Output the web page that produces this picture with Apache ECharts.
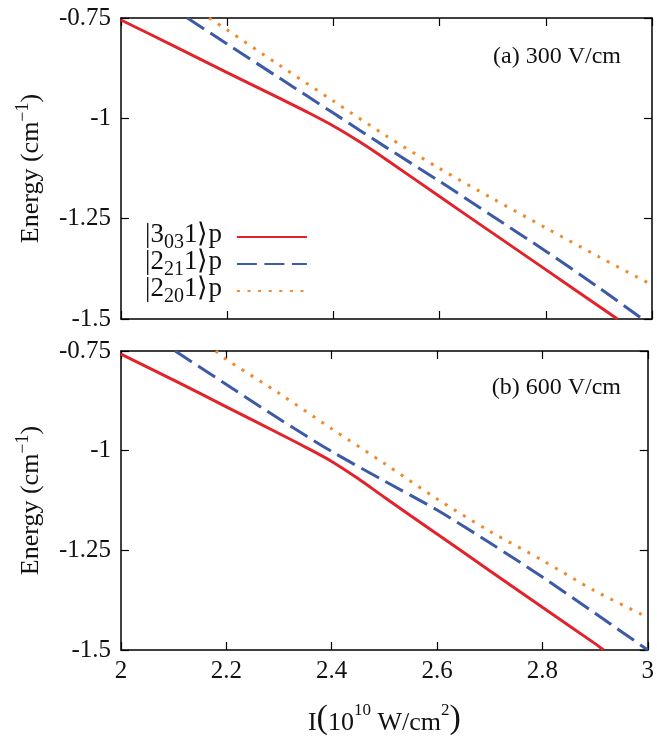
<!DOCTYPE html>
<html><head><meta charset="utf-8">
<script src="https://cdn.jsdelivr.net/npm/echarts@6/dist/echarts.min.js"></script>
<style>html,body{margin:0;padding:0;background:#fff}#c{width:657px;height:737px}</style>
</head><body><div id="c"></div>
<script>
// ---- data ----
const xTicks = [2, 2.2, 2.4, 2.6, 2.8, 3];
const yTicks = [-0.75, -1, -1.25, -1.5];
const seriesNames = ['s303', 's221', 's220'];
const legendMain = ['3', '2', '2'];
const legendSub = ['03', '21', '20'];
const panelLabels = ['(a) 300 V/cm', '(b) 600 V/cm'];

// panel (a) 300 V/cm
const redA = [[2.0,-0.755],[2.1,-0.820],[2.2,-0.886],[2.3,-0.951],[2.35,-0.984],[2.4,-1.019],[2.45,-1.059],[2.5,-1.103],[2.6,-1.195],[2.7,-1.286],[2.8,-1.377],[2.9,-1.468],[2.935,-1.5]];
const blueA = [[2.125,-0.75],[2.2,-0.815],[2.3,-0.901],[2.4,-0.987],[2.5,-1.073],[2.6,-1.157],[2.7,-1.244],[2.8,-1.331],[2.9,-1.422],[2.982,-1.5]];
const orangeA = [[2.166,-0.75],[2.2,-0.780],[2.3,-0.869],[2.4,-0.957],[2.5,-1.044],[2.6,-1.125],[2.7,-1.200],[2.8,-1.273],[2.9,-1.345],[3.0,-1.415]];

// panel (b) 600 V/cm
const redB = [[2.0,-0.758],[2.1,-0.823],[2.2,-0.890],[2.3,-0.957],[2.35,-0.991],[2.4,-1.027],[2.45,-1.070],[2.5,-1.117],[2.6,-1.209],[2.7,-1.301],[2.8,-1.393],[2.9,-1.484],[2.916,-1.5]];
const blueB = [[2.103,-0.75],[2.2,-0.834],[2.3,-0.920],[2.4,-1.002],[2.5,-1.076],[2.6,-1.149],[2.7,-1.231],[2.8,-1.317],[2.9,-1.408],[3.0,-1.5]];
const orangeB = [[2.18,-0.75],[2.2,-0.771],[2.3,-0.856],[2.4,-0.945],[2.5,-1.032],[2.6,-1.121],[2.7,-1.202],[2.8,-1.275],[2.9,-1.352],[3.0,-1.418]];

// ---- styling ----
const FONT = 'Liberation Serif';
const RED = '#e2232b', BLUE = '#3d5aa8', ORANGE = '#f08a2e';
const styles = [
  {color: RED, type: 'solid', width: 3},
  {color: BLUE, type: [20, 7.5], width: 3},
  {color: ORANGE, type: [3, 7.6], width: 3}
];

const chart = echarts.init(document.getElementById('c'), null, {renderer: 'canvas'});

const grids = [
  {left: 121, top: 18, width: 531, height: 301},
  {left: 121, top: 351, width: 531, height: 301}
];

function xAxes(gi, showLabels) {
  const base = {
    type: 'value', gridIndex: gi, min: 2, max: 3, interval: 0.2,
    splitLine: {show: false},
    axisLine: {show: true, onZero: false, lineStyle: {color: '#000', width: 1.5}},
    axisTick: {show: true, inside: true, length: 8, lineStyle: {color: '#000', width: 1.2}}
  };
  const bottom = Object.assign({}, base, {
    position: 'bottom',
    axisLabel: {show: showLabels, fontFamily: FONT, fontSize: 25, color: '#111', margin: 9,
      formatter: v => xTicks.indexOf(+v.toFixed(1)) >= 0 ? String(+v.toFixed(1)) : ''}
  });
  if (showLabels) {
    bottom.name = '{t|I}{p|(}{t|10}{s|10}{t| W/cm}{s|2}{p|)}';
    bottom.nameLocation = 'middle';
    bottom.nameGap = 52;
    bottom.nameTextStyle = {fontFamily: FONT, color: '#111', rich: {
      t: {fontFamily: FONT, fontSize: 26, color: '#111', verticalAlign: 'bottom', lineHeight: 34},
      p: {fontFamily: FONT, fontSize: 34, color: '#111', verticalAlign: 'bottom', lineHeight: 34},
      s: {fontFamily: FONT, fontSize: 17, color: '#111', verticalAlign: 'top', lineHeight: 34}
    }};
  }
  const top = Object.assign({}, base, {position: 'top', axisLabel: {show: false}});
  return [bottom, top];
}

function yAxes(gi) {
  const base = {
    type: 'value', gridIndex: gi, min: -1.5, max: -0.75, interval: 0.25,
    splitLine: {show: false},
    axisLine: {show: true, onZero: false, lineStyle: {color: '#000', width: 1.5}},
    axisTick: {show: true, inside: true, length: 8, lineStyle: {color: '#000', width: 1.2}}
  };
  const left = Object.assign({}, base, {
    position: 'left',
    axisLabel: {fontFamily: FONT, fontSize: 25, color: '#111', margin: 10,
      formatter: v => String(+v.toFixed(2))},
    name: '{t|Energy (cm}{s|\u22121}{t|)}',
    nameLocation: 'middle', nameRotate: 90, nameGap: 77,
    nameTextStyle: {fontFamily: FONT, color: '#111', rich: {
      t: {fontFamily: FONT, fontSize: 26, color: '#111', verticalAlign: 'bottom', lineHeight: 30},
      s: {fontFamily: FONT, fontSize: 18, color: '#111', verticalAlign: 'top', lineHeight: 30}
    }}
  });
  const right = Object.assign({}, base, {position: 'right', axisLabel: {show: false}});
  return [left, right];
}

const xAxis = [...xAxes(0, false), ...xAxes(1, true)];
const yAxis = [...yAxes(0), ...yAxes(1)];

const dataSets = [[redA, blueA, orangeA], [redB, blueB, orangeB]];
const series = [];
dataSets.forEach((set, gi) => {
  set.forEach((d, si) => {
    series.push({
      name: seriesNames[si], type: 'line', xAxisIndex: gi * 2, yAxisIndex: gi * 2,
      data: d, showSymbol: false, symbol: 'none', smooth: 0.3, clip: true,
      lineStyle: {color: styles[si].color, type: styles[si].type, width: styles[si].width},
      itemStyle: {color: styles[si].color}, z: 3 - si
    });
  });
});

chart.setOption({
  animation: false,
  backgroundColor: '#fff',
  grid: grids,
  xAxis: xAxis,
  yAxis: yAxis,
  title: [
    {text: panelLabels[0], right: 31, top: 40, textStyle: {fontFamily: FONT, fontSize: 24, fontWeight: 'normal', color: '#111'}},
    {text: panelLabels[1], right: 31, top: 371, textStyle: {fontFamily: FONT, fontSize: 24, fontWeight: 'normal', color: '#111'}}
  ],
  legend: {
    data: seriesNames,
    orient: 'vertical', left: 140, top: 216, align: 'right',
    itemWidth: 70, itemHeight: 14, itemGap: -5,
    itemStyle: {opacity: 0},
    formatter: name => {
      const i = seriesNames.indexOf(name);
      return '{k|\u007C' + legendMain[i] + '}{b|' + legendSub[i] + '}{k|1\u27E9p}';
    },
    textStyle: {fontFamily: FONT, color: '#111', padding: [0, 10, 0, 0], rich: {
      k: {fontFamily: FONT, fontSize: 27, color: '#111', verticalAlign: 'top', lineHeight: 27},
      b: {fontFamily: FONT, fontSize: 20, color: '#111', verticalAlign: 'bottom', lineHeight: 32}
    }}
  },
  series: series
});
</script></body></html>
